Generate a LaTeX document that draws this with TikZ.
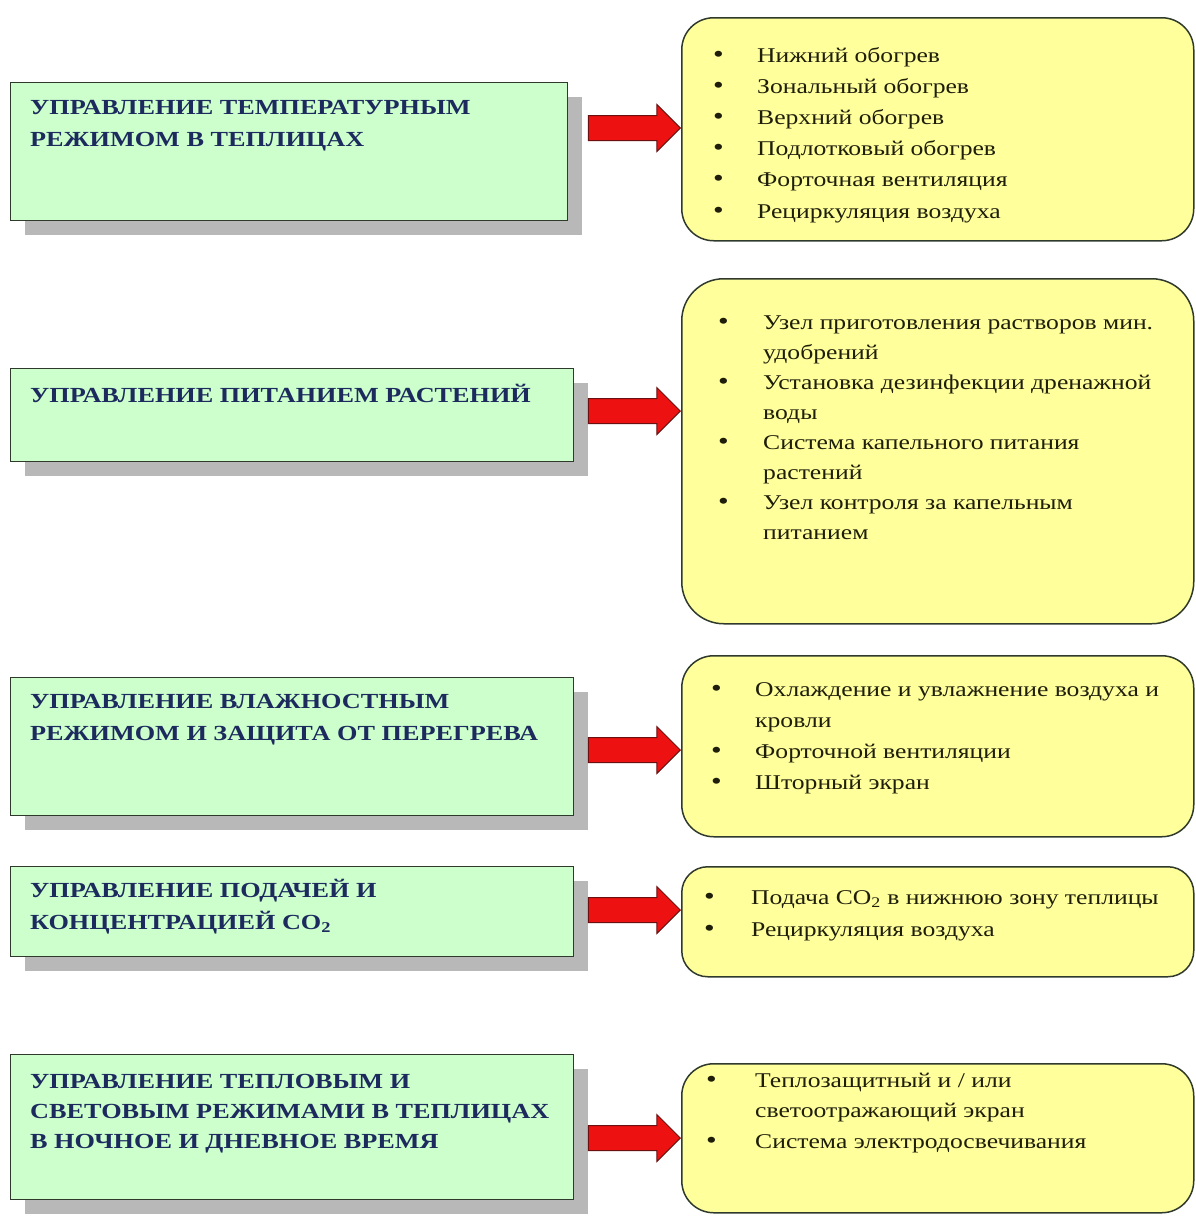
\documentclass[tikz,border=0pt]{standalone}
\usepackage{fontspec}
\setmainfont{Liberation Serif}[FakeStretch=1.22]
\usetikzlibrary{shapes.arrows,shadows}
\definecolor{gfill}{HTML}{CCFFCC}
\definecolor{yfill}{HTML}{FFFF9C}
\definecolor{bord}{HTML}{2F3A2C}
\definecolor{shad}{HTML}{B8B8B8}
\definecolor{navy}{HTML}{1C2A5E}
\definecolor{ytext}{HTML}{1E1E0A}
\definecolor{arrred}{HTML}{EE1111}
\definecolor{arrbord}{HTML}{6A1010}
\tikzset{
  gbox/.style={draw=bord, line width=1.3pt, fill=gfill, anchor=north west, inner sep=0pt,
    drop shadow={shadow xshift=14pt, shadow yshift=-14pt, fill=shad, opacity=1}},
  ybox/.style={draw=bord, line width=1.5pt, fill=yfill, anchor=north west, inner sep=0pt, rounded corners=32pt},
  gtext/.style={anchor=base west, inner sep=0pt, text=navy, font=\fontsize{21.5}{32}\selectfont\bfseries},
  ytextst/.style={anchor=base west, inner sep=0pt, text=ytext, font=\fontsize{21}{31}\selectfont},
  redarrow/.style={single arrow, draw=arrbord, line width=1pt, fill=arrred, inner xsep=0pt, inner ysep=12pt,
    minimum height=92pt, minimum width=46pt, single arrow head extend=11pt, single arrow tip angle=90, anchor=tip},
}
\newcommand{\bl}{{\fontsize{25}{25}\selectfont\textbullet}}
\begin{document}
\begin{tikzpicture}[x=1pt,y=-1pt]
\useasboundingbox (0,0) rectangle (1195,1219);
% green boxes
\node[gbox, minimum width=557pt, minimum height=138pt] (g1) at (10,82) {};
\node[gbox, minimum width=563pt, minimum height=93pt] (g2) at (10,368) {};
\node[gbox, minimum width=563pt, minimum height=138pt] (g3) at (10,677) {};
\node[gbox, minimum width=563pt, minimum height=90pt] (g4) at (10,866) {};
\node[gbox, minimum width=563pt, minimum height=145pt] (g5) at (10,1054) {};
% yellow boxes
\node[ybox, minimum width=512pt, minimum height=223pt] (y1) at (681,17) {};
\node[ybox, minimum width=512pt, minimum height=345pt, rounded corners=42pt] (y2) at (681,278) {};
\node[ybox, minimum width=512pt, minimum height=181pt] (y3) at (681,655) {};
\node[ybox, minimum width=512pt, minimum height=110pt, rounded corners=26pt] (y4) at (681,866) {};
\node[ybox, minimum width=512pt, minimum height=149pt] (y5) at (681,1063) {};
% green texts
\node[gtext] (t1) at (30,114) {\begin{tabular}[t]{@{}l@{}}УПРАВЛЕНИЕ ТЕМПЕРАТУРНЫМ\\РЕЖИМОМ В ТЕПЛИЦАХ\end{tabular}};
\node[gtext] (t2) at (30,402) {\begin{tabular}[t]{@{}l@{}}УПРАВЛЕНИЕ ПИТАНИЕМ РАСТЕНИЙ\end{tabular}};
\node[gtext] (t3) at (30,708) {\begin{tabular}[t]{@{}l@{}}УПРАВЛЕНИЕ ВЛАЖНОСТНЫМ\\РЕЖИМОМ И ЗАЩИТА ОТ ПЕРЕГРЕВА\end{tabular}};
\node[gtext] (t4) at (30,897) {\begin{tabular}[t]{@{}l@{}}УПРАВЛЕНИЕ ПОДАЧЕЙ И\\КОНЦЕНТРАЦИЕЙ CO\textsubscript{2}\end{tabular}};
\node[gtext, font=\fontsize{21.5}{30}\selectfont\bfseries] (t5) at (30,1088) {\begin{tabular}[t]{@{}l@{}}УПРАВЛЕНИЕ ТЕПЛОВЫМ И\\СВЕТОВЫМ РЕЖИМАМИ В ТЕПЛИЦАХ\\В НОЧНОЕ И ДНЕВНОЕ ВРЕМЯ\end{tabular}};
% yellow texts
\node[ytextst, font=\fontsize{21}{31.2}\selectfont] (l1) at (713,62) {\begin{tabular}[t]{@{}p{44pt}@{}l@{}}
\bl & Нижний обогрев\\
\bl & Зональный обогрев\\
\bl & Верхний обогрев\\
\bl & Подлотковый обогрев\\
\bl & Форточная вентиляция\\
\bl & Рециркуляция воздуха\end{tabular}};
\node[ytextst, font=\fontsize{21}{30.1}\selectfont] (l2) at (718,329) {\begin{tabular}[t]{@{}p{45pt}@{}l@{}}
\bl & Узел приготовления растворов мин.\\
 & удобрений\\
\bl & Установка дезинфекции дренажной\\
 & воды\\
\bl & Система капельного питания\\
 & растений\\
\bl & Узел контроля за капельным\\
 & питанием\end{tabular}};
\node[ytextst] (l3) at (711,696) {\begin{tabular}[t]{@{}p{44pt}@{}l@{}}
\bl & Охлаждение и увлажнение воздуха и\\
 & кровли\\
\bl & Форточной вентиляции\\
\bl & Шторный экран\end{tabular}};
\node[ytextst, font=\fontsize{21}{32}\selectfont] (l4) at (704,904) {\begin{tabular}[t]{@{}p{47pt}@{}l@{}}
\bl & Подача CO\textsubscript{2} в нижнюю зону теплицы\\
\bl & Рециркуляция воздуха\end{tabular}};
\node[ytextst, font=\fontsize{21}{30.5}\selectfont] (l5) at (706,1087) {\begin{tabular}[t]{@{}p{49pt}@{}l@{}}
\bl & Теплозащитный и / или\\
 & светоотражающий экран\\
\bl & Система электродосвечивания\end{tabular}};
% arrows
\node[redarrow] (a1) at (681,128) {};
\node[redarrow] (a2) at (681,411) {};
\node[redarrow] (a3) at (681,750) {};
\node[redarrow] (a4) at (681,910) {};
\node[redarrow] (a5) at (681,1138) {};
\end{tikzpicture}
\end{document}
